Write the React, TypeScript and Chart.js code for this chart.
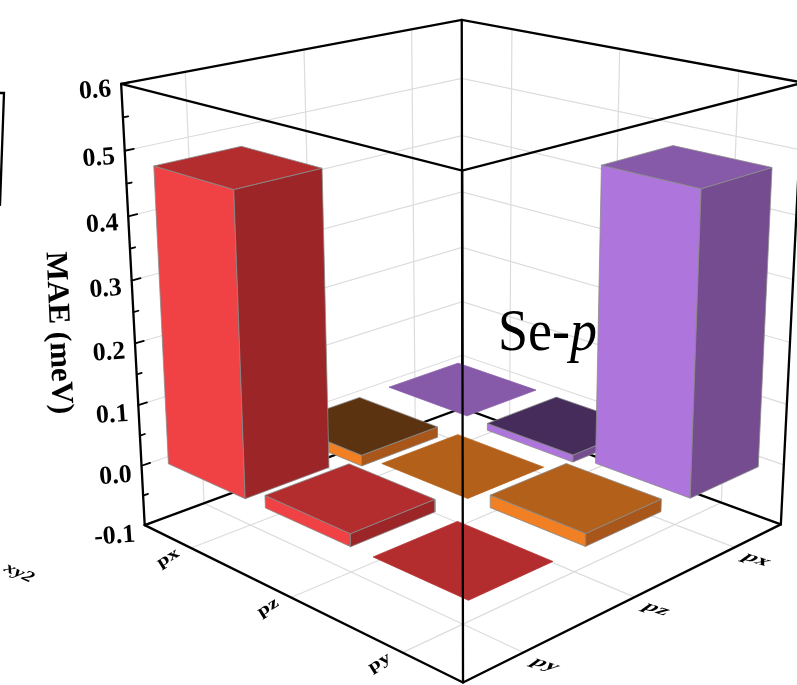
import React, { useEffect, useRef } from "react";
import { Chart, registerables } from "chart.js";

Chart.register(...registerables);

const categories = ["px", "pz", "py"];
const zTicks = [0.6, 0.5, 0.4, 0.3, 0.2, 0.1, 0.0, -0.1];
const zMinorTicks = [0.55, 0.45, 0.35, 0.25, 0.15, 0.05, -0.05];
// rows by right-axis category, cells by left-axis category
const valuesPx = [0.0, -0.012, 0.475];
const valuesPz = [-0.018, 0.0, 0.02];
const valuesPy = [0.475, 0.02, 0.0];
const rowValues = [valuesPx, valuesPz, valuesPy];

const faceBright = ["#ae76dc", "#f08023", "#f04145"];
const faceDark = ["#744c8f", "#a8561a", "#9b2527"];
const faceTop = ["#865aa8", "#b3601b", "#b32d2f"];
const faceTopNeg = ["#452c5a", "#5c3310", "#5c1a1a"];

const zMin = -0.1, zMax = 0.6, halfA = 0.4, halfB = 0.355;

// Camera calibration: box corners [a, b, z] -> canvas position
const calib: number[][] = [
  [0, 0, zMax, 462, 20], [3, 0, zMax, 803, 83], [0, 3, zMax, 121, 84], [3, 3, zMax, 462, 170],
  [0, 0, zMin, 462, 407], [3, 0, zMin, 781, 525], [0, 3, zMin, 145, 526], [3, 3, zMin, 463, 682],
];

function solveCamera(): number[] {
  const A: number[][] = [], B: number[] = [];
  for (const [a, b, z, x, y] of calib) {
    const w = (z - zMin) / (zMax - zMin) * 3;
    A.push([a, b, w, 1, 0, 0, 0, 0, -a * x, -b * x, -w * x]); B.push(x);
    A.push([0, 0, 0, 0, a, b, w, 1, -a * y, -b * y, -w * y]); B.push(y);
  }
  const n = 11;
  const M: number[][] = [];
  for (let i = 0; i < n; i++) {
    const r: number[] = [];
    for (let j = 0; j < n; j++) r.push(A.reduce((s, row) => s + row[i] * row[j], 0));
    r.push(A.reduce((s, row, k) => s + row[i] * B[k], 0));
    M.push(r);
  }
  for (let i = 0; i < n; i++) {
    let p = i;
    for (let k = i + 1; k < n; k++) if (Math.abs(M[k][i]) > Math.abs(M[p][i])) p = k;
    [M[i], M[p]] = [M[p], M[i]];
    for (let k = 0; k < n; k++) {
      if (k === i) continue;
      const f = M[k][i] / M[i][i];
      for (let j = i; j <= n; j++) M[k][j] -= f * M[i][j];
    }
  }
  return M.map((r, i) => r[n] / r[i]);
}
const cam = solveCamera();
function project(a: number, b: number, z: number) {
  const w = (z - zMin) / (zMax - zMin) * 3;
  const d = cam[8] * a + cam[9] * b + cam[10] * w + 1;
  return {
    x: (cam[0] * a + cam[1] * b + cam[2] * w + cam[3]) / d,
    y: (cam[4] * a + cam[5] * b + cam[6] * w + cam[7]) / d,
  };
}

type Pt = { x: number; y: number };
const poly = (data: Pt[], fill: string, stroke = "#8a8a8a", width = 0.8) => ({
  data: [...data, data[0]], showLine: true, fill: "shape", backgroundColor: fill, borderColor: stroke,
  borderWidth: width, pointRadius: 0, pointHoverRadius: 0, tension: 0, clip: false,
});
const line = (data: Pt[], color = "#000000", width = 2.3) => ({
  data, showLine: true, fill: false, borderColor: color, borderWidth: width, pointRadius: 0,
  pointHoverRadius: 0, tension: 0, clip: false, borderCapStyle: "round",
});

function buildDatasets() {
  const back: any[] = [];
  const grid = "#dcdcdc";
  const gridPos = categories.map((_, i) => i + 0.5);
  // side-panel fragment at the page edge
  back.push(line([{ x: 0, y: 93 }, { x: 4, y: 93 }, { x: 0, y: 205 }], "#000000", 2.3));
  for (const t of zTicks) {
    if (t === zMin || t === zMax) continue;
    back.push(line([project(0, 3, t), project(0, 0, t), project(3, 0, t)], grid, 1.2));
  }
  for (const p of gridPos) {
    back.push(line([project(0, p, zMax), project(0, p, zMin), project(3, p, zMin)], grid, 1.2));
    back.push(line([project(p, 0, zMax), project(p, 0, zMin), project(p, 3, zMin)], grid, 1.2));
  }
  back.push(line([project(0, 3, zMin), project(0, 0, zMin), project(3, 0, zMin)]));
  back.push(line([project(0, 0, zMax), project(0, 0, zMin)]));
  back.push(line([project(0, 3, zMax), project(0, 0, zMax), project(3, 0, zMax)]));
  back.push(line([project(0, 3, zMax), project(0, 3, zMin)]));
  back.push(line([project(3, 0, zMax), project(3, 0, zMin)]));
  for (const t of zTicks) back.push(line([project(0, 3, t), project(0, 2.93, t)], "#000", 1.8));
  for (const t of zMinorTicks) back.push(line([project(0, 3, t), project(0, 2.96, t)], "#000", 1.8));

  const bars: any[] = [];
  const cells: { a: number; b: number }[] = [];
  rowValues.forEach((row, b) => row.forEach((_, a) => cells.push({ a, b })));
  cells.sort((p, q) => p.a + p.b - (q.a + q.b));
  for (const { a, b } of cells) {
    const v = rowValues[b][a];
    const ca = a + 0.5, cb = b + 0.5;
    const hi = Math.max(v, 0), lo = Math.min(v, 0);
    if (v !== 0) {
      bars.push(poly([project(ca - halfA, cb + halfB, hi), project(ca + halfA, cb + halfB, hi), project(ca + halfA, cb + halfB, lo), project(ca - halfA, cb + halfB, lo)], faceBright[b]));
      bars.push(poly([project(ca + halfA, cb + halfB, hi), project(ca + halfA, cb - halfB, hi), project(ca + halfA, cb - halfB, lo), project(ca + halfA, cb + halfB, lo)], faceDark[b]));
    }
    bars.push(poly([project(ca - halfA, cb - halfB, hi), project(ca + halfA, cb - halfB, hi), project(ca + halfA, cb + halfB, hi), project(ca - halfA, cb + halfB, hi)], v < 0 ? faceTopNeg[b] : faceTop[b], v === 0 ? faceTop[b] : "#8a8a8a"));
  }

  const front: any[] = [];
  front.push(line([project(0, 3, zMax), project(3, 3, zMax), project(3, 0, zMax)]));
  front.push(line([project(3, 3, zMax), project(3, 3, zMin)]));
  front.push(line([project(0, 3, zMin), project(3, 3, zMin), project(3, 0, zMin)]));

  const all = [...back, ...bars, ...front];
  // chart.js paints low "order" values on top
  all.forEach((d, i) => (d.order = all.length - i));
  return { datasets: all, barStart: back.length };
}

const serif = '"Liberation Serif", "Times New Roman", serif';

function App() {
  const ref = useRef<HTMLCanvasElement>(null);
  useEffect(() => {
    document.body.style.margin = "0";
    document.body.style.overflow = "hidden";
    const { datasets, barStart } = buildDatasets();
    const textPlugin = {
      id: "boxText",
      beforeDatasetDraw(chart: any, args: any) {
        if (args.index !== barStart) return;
        const ctx = chart.ctx;
        ctx.save();
        ctx.fillStyle = "#000";
        ctx.textBaseline = "alphabetic";
        ctx.textAlign = "left";
        ctx.translate(498, 350);
        ctx.scale(0.9, 1);
        ctx.font = `60px ${serif}`;
        ctx.fillText("Se-", 0, 0);
        const w = ctx.measureText("Se-").width;
        ctx.font = `italic 60px ${serif}`;
        ctx.fillText("p", w, 0);
        ctx.restore();
      },
      afterDatasetsDraw(chart: any) {
        const ctx = chart.ctx;
        ctx.save();
        ctx.fillStyle = "#000";
        ctx.textAlign = "center";
        ctx.textBaseline = "middle";
        ctx.font = `bold 26px ${serif}`;
        for (const t of zTicks) {
          const p = project(0, 3, t);
          ctx.save();
          ctx.translate(p.x + (t < 0 ? -30 : -26), p.y + 7 + (0.6 - t) * 6);
          ctx.rotate((-4 * Math.PI) / 180);
          ctx.fillText(t.toFixed(1), 0, 0);
          ctx.restore();
        }
        ctx.save();
        ctx.translate(58, 333);
        ctx.rotate((87.5 * Math.PI) / 180);
        ctx.font = `bold 31px ${serif}`;
        ctx.fillText("MAE (meV)", 0, 0);
        ctx.restore();

        ctx.font = `bold 19px ${serif}`;
        categories.forEach((c, i) => {
          const pl = project(i + 0.5, 3, zMin);
          ctx.save();
          ctx.translate(pl.x - 23, pl.y + 10);
          ctx.transform(1.0, -0.62, 0.45, 0.72, 0, 0);
          ctx.fillText(c, 0, 0);
          ctx.restore();
          const pr = project(3, i + 0.5, zMin);
          ctx.save();
          ctx.translate(pr.x + 22, pr.y + 12);
          ctx.transform(1.2, 0.38, -0.8, 0.58, 0, 0);
          ctx.fillText(c, 0, 0);
          ctx.restore();
        });
        // caption fragment of the neighbouring panel
        ctx.save();
        ctx.translate(19, 573);
        ctx.transform(1.0, 0.45, -0.45, 0.72, 0, 0);
        ctx.font = `italic bold 19px ${serif}`;
        ctx.fillText("xy2", 0, 0);
        ctx.restore();
        ctx.restore();
      },
    };
    const chart = new Chart(ref.current!, {
      type: "scatter",
      data: { datasets },
      plugins: [textPlugin],
      options: {
        animation: false,
        responsive: false,
        events: [],
        layout: { padding: 0 },
        plugins: { legend: { display: false }, tooltip: { enabled: false }, title: { display: false } },
        scales: {
          x: { type: "linear", min: 0, max: 797, display: false },
          y: { type: "linear", min: 0, max: 685, reverse: true, display: false },
        },
      },
    } as any);
    return () => chart.destroy();
  }, []);
  return <canvas ref={ref} width={797} height={685} style={{ display: "block" }} />;
}

export default App;
